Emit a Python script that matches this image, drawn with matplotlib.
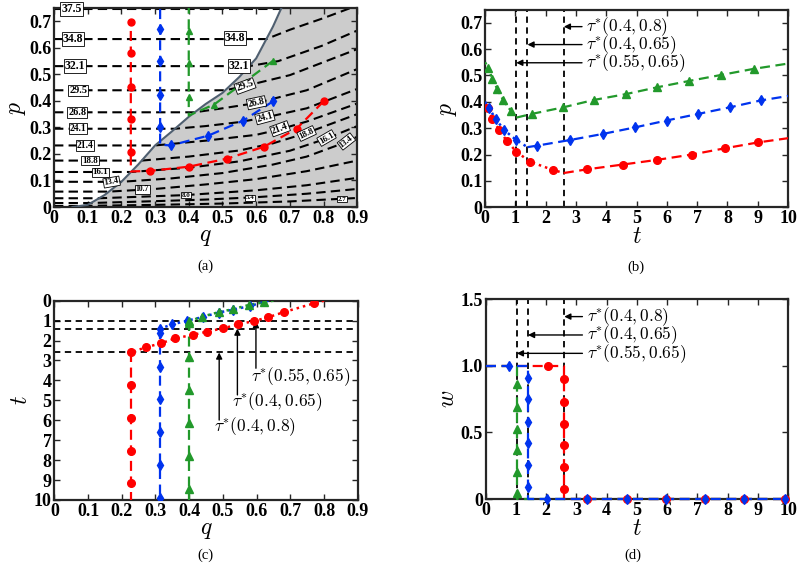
import matplotlib
matplotlib.use("Agg")
import matplotlib.pyplot as plt
import numpy as np

plt.rcParams['mathtext.fontset'] = 'cm'
plt.rcParams['font.family'] = 'Liberation Serif'
plt.rcParams['font.weight'] = 'bold'
plt.rcParams['xtick.labelsize'] = 13
plt.rcParams['ytick.labelsize'] = 13

RED = '#ff0000'
BLUE = '#0033ee'
GREEN = '#22992b'
DASH = (0, (4.5, 2.5))
DOT = (0, (1, 1.6))

# switching times tau*
tau = [1.03, 1.4, 2.6]
tau_labels = [r'$\tau^{*}(0.55,0.65)$', r'$\tau^{*}(0.4,0.65)$', r'$\tau^{*}(0.4,0.8)$']

# ---------------- panel (a) data ----------------
bound_q = [0.055, 0.10, 0.15, 0.20, 0.25, 0.30, 0.35, 0.40, 0.45, 0.50, 0.55, 0.60, 0.65, 0.675]
bound_p = [0.0, 0.008, 0.045, 0.095, 0.16, 0.232, 0.285, 0.34, 0.388, 0.43, 0.49, 0.56, 0.68, 0.75]

level_p = [0.004, 0.015, 0.033, 0.058, 0.095, 0.132, 0.175, 0.232, 0.295, 0.357, 0.44, 0.531, 0.633, 0.745]
# contour pieces inside the shaded region
gray_q = [[0.3, 0.5, 0.7, 0.9],
          [0.3, 0.45, 0.6, 0.75, 0.9],
          [0.392, 0.6, 0.75, 0.9],
          [0.3, 0.45, 0.6, 0.75, 0.9],
          [0.35, 0.5, 0.65, 0.75, 0.868, 0.9],
          [0.4, 0.55, 0.7, 0.809, 0.9],
          [0.4, 0.55, 0.65, 0.745, 0.9],
          [0.45, 0.6, 0.671, 0.75, 0.9],
          [0.45, 0.55, 0.626, 0.75, 0.9],
          [0.5, 0.601, 0.75, 0.9],
          [0.567, 0.7, 0.9],
          [0.666, 0.794, 0.9],
          [0.7, 0.8, 0.88],
          []]
gray_p = [[0.008, 0.013, 0.021, 0.034],
          [0.022, 0.028, 0.037, 0.05, 0.068],
          [0.045, 0.063, 0.082, 0.11],
          [0.068, 0.085, 0.105, 0.135, 0.175],
          [0.108, 0.128, 0.16, 0.19, 0.245, 0.265],
          [0.148, 0.172, 0.212, 0.258, 0.305],
          [0.19, 0.213, 0.24, 0.277, 0.35],
          [0.25, 0.272, 0.293, 0.322, 0.39],
          [0.305, 0.32, 0.337, 0.372, 0.445],
          [0.372, 0.392, 0.44, 0.52],
          [0.456, 0.497, 0.595],
          [0.55, 0.607, 0.665],
          [0.668, 0.712, 0.75],
          []]

lab_text = ['37.5', '34.8', '34.8', '32.1', '32.1', '29.5', '29.5', '26.8', '26.8', '24.1', '24.1',
            '21.4', '21.4', '18.8', '18.8', '16.1', '16.1', '13.4', '13.4', '10.7', '8.0', '5.4', '2.7']
lab_q = [0.052, 0.057, 0.537, 0.062, 0.55, 0.072, 0.567, 0.069, 0.601, 0.072, 0.626,
         0.092, 0.671, 0.107, 0.75, 0.137, 0.809, 0.171, 0.868, 0.262, 0.392, 0.582, 0.854]
lab_p = [0.746, 0.633, 0.636, 0.531, 0.531, 0.44, 0.456, 0.357, 0.393, 0.296, 0.338,
         0.232, 0.295, 0.175, 0.277, 0.131, 0.26, 0.094, 0.247, 0.067, 0.045, 0.035, 0.029]
lab_rot = [0, 0, 0, 0, 0, 0, 20, 0, 12, 0, 15, 0, 20, 0, 25, 0, 30, 10, 38, 0, 0, 0, 0]
lab_size = [8.5, 8.5, 8.5, 8.5, 8.5, 7.5, 7.5, 7.5, 7, 7, 7, 7, 7, 6.5, 6.5, 6.5, 6.5, 6, 6, 5.5, 5, 5, 5]

red_a_q = [0.80, 0.72, 0.623, 0.513, 0.40, 0.285, 0.228, 0.228]
red_a_p = [0.398, 0.295, 0.227, 0.182, 0.152, 0.136, 0.134, 0.70]
red_a_mq = [0.80, 0.72, 0.623, 0.513, 0.40, 0.285, 0.228, 0.228, 0.228, 0.228, 0.228]
red_a_mp = [0.398, 0.295, 0.227, 0.182, 0.152, 0.136, 0.206, 0.333, 0.454, 0.58, 0.697]
blue_a_q = [0.651, 0.562, 0.458, 0.346, 0.315, 0.315]
blue_a_p = [0.399, 0.326, 0.269, 0.232, 0.235, 0.76]
blue_a_mq = [0.651, 0.562, 0.458, 0.346, 0.315, 0.315, 0.315, 0.315]
blue_a_mp = [0.399, 0.326, 0.269, 0.232, 0.302, 0.424, 0.549, 0.67]
green_a_q = [0.649, 0.475, 0.40, 0.40]
green_a_p = [0.55, 0.386, 0.345, 0.76]
green_a_mq = [0.649, 0.475, 0.40, 0.40, 0.40]
green_a_mp = [0.55, 0.386, 0.415, 0.542, 0.664]

# ---------------- panel (b) data ----------------
red_b1_t = [0, 0.11, 0.24, 0.47, 0.71, 1.03, 1.48, 2.23, 2.6]
red_b1_p = [0.395, 0.375, 0.335, 0.293, 0.253, 0.211, 0.173, 0.142, 0.13]
red_b2_t = [2.6, 3.37, 4.54, 5.69, 6.82, 7.93, 9.01, 10]
red_b2_p = [0.13, 0.144, 0.162, 0.18, 0.20, 0.224, 0.246, 0.262]
blue_b1_t = [0, 0.14, 0.35, 0.63, 1.03, 1.4]
blue_b1_p = [0.40, 0.375, 0.335, 0.293, 0.255, 0.228]
blue_b2_t = [1.4, 1.73, 2.80, 3.88, 4.95, 5.99, 7.03, 8.08, 9.09, 10]
blue_b2_p = [0.228, 0.234, 0.255, 0.278, 0.303, 0.329, 0.354, 0.379, 0.405, 0.422]
green_b1_t = [0, 0.11, 0.24, 0.41, 0.6, 0.86, 1.03]
green_b1_p = [0.55, 0.527, 0.487, 0.448, 0.407, 0.365, 0.34]
green_b2_t = [1.03, 1.54, 2.58, 3.59, 4.64, 5.68, 6.73, 7.8, 8.87, 10]
green_b2_p = [0.34, 0.354, 0.379, 0.407, 0.429, 0.455, 0.479, 0.502, 0.525, 0.545]

# ---------------- panel (c) data ----------------
red_c1_q = [0.80, 0.771, 0.68, 0.635, 0.593, 0.546, 0.50, 0.454, 0.41, 0.358, 0.317, 0.271, 0.228]
red_c1_t = [0, 0.13, 0.58, 0.83, 1.02, 1.19, 1.39, 1.55, 1.72, 1.89, 2.14, 2.34, 2.6]
red_c2_t = [2.6, 4.22, 5.87, 7.52, 9.17, 10]
red_c2_q = [0.228] * 6
blue_c1_q = [0.635, 0.58, 0.53, 0.487, 0.44, 0.395, 0.35, 0.314]
blue_c1_t = [0, 0.27, 0.45, 0.6, 0.82, 1.0, 1.19, 1.4]
blue_c2_t = [1.4, 1.64, 3.31, 4.95, 6.61, 8.24, 9.92, 10]
blue_c2_q = [0.314] * 8
green_c1_q = [0.65, 0.622, 0.576, 0.531, 0.487, 0.439, 0.40]
green_c1_t = [0, 0.08, 0.22, 0.42, 0.58, 0.8, 1.03]
green_c2_t = [1.03, 1.14, 2.84, 4.48, 6.15, 7.79, 9.45, 10]
green_c2_q = [0.40] * 8

# ---------------- panel (d) data ----------------
w_line = [1, 1, 0, 0]
green_d_t = [0, 1.03, 1.03, 10]
green_d_mt = [1.03] * 6
green_d_mw = [0.043, 0.2, 0.368, 0.526, 0.694, 0.862]
red_d_t = [0, 2.6, 2.6, 10]
red_d_mt = [2.07, 2.6, 2.6, 2.6, 2.6, 2.6, 2.6, 3.34, 4.66, 5.96, 7.27, 8.55, 9.89]
red_d_mw = [1.0, 0.075, 0.238, 0.406, 0.563, 0.731, 0.899, 0, 0, 0, 0, 0, 0]
blue_d_t = [0, 1.41, 1.41, 10]
blue_d_mt = [0.77, 1.41, 1.41, 1.41, 1.41, 1.41, 1.41, 2.02, 3.34, 4.66, 5.96, 7.27, 8.55, 9.89]
blue_d_mw = [1.0, 0.088, 0.253, 0.418, 0.581, 0.749, 0.912, 0, 0, 0, 0, 0, 0, 0]


def fmt(v):
    return '0' if v == 0 else ('%g' % v)


def style(ax, xt, yt, xlim, ylim, xlab, ylab, ylabels=None):
    ax.set_xlim(*xlim)
    ax.set_ylim(*ylim)
    ax.set_xticks(xt, labels=[fmt(v) for v in xt])
    ax.set_yticks(yt, labels=ylabels if ylabels else [fmt(v) for v in yt])
    ax.tick_params(direction='in', top=True, right=True, length=4, width=1,
                   pad=2, color='#262626', labelcolor='black')
    for s in ax.spines.values():
        s.set_linewidth(1.6)
        s.set_color('#262626')
    ax.set_xlabel(xlab, fontsize=17, labelpad=0)
    ax.set_ylabel(ylab, fontsize=17, labelpad=1)


fig = plt.figure(figsize=(8, 5.69), dpi=100)
ax_a = fig.add_axes([0.0675, 0.6362, 0.379, 0.3497])
ax_b = fig.add_axes([0.6063, 0.6357, 0.3788, 0.3476])
ax_c = fig.add_axes([0.0679, 0.1213, 0.3793, 0.3503])
ax_d = fig.add_axes([0.6071, 0.1230, 0.3779, 0.351])

# ---------- (a) ----------
ax = ax_a
ax.fill_betweenx(bound_p, bound_q, 0.9, color='#cccccc', lw=0, zorder=0)
ax.plot(bound_q, bound_p, color='#4f5f70', lw=1.5, zorder=3)
for p0, gq, gp in zip(level_p, gray_q, gray_p):
    q0 = np.interp(p0, bound_p, bound_q)
    ax.plot([0, q0] + gq, [p0, p0] + gp, color='black', lw=1.5, ls=DASH, zorder=2)
for txt, q, p, r, s in zip(lab_text, lab_q, lab_p, lab_rot, lab_size):
    ax.text(q, p, txt, fontsize=s, fontweight='bold', rotation=r, ha='center', va='center',
            zorder=6, clip_on=False,
            bbox=dict(boxstyle='square,pad=0.08', fc='white', ec='black', lw=0.6))
for lq, lp, mq, mp, c, m in [(red_a_q, red_a_p, red_a_mq, red_a_mp, RED, 'o'),
                             (blue_a_q, blue_a_p, blue_a_mq, blue_a_mp, BLUE, 'd'),
                             (green_a_q, green_a_p, green_a_mq, green_a_mp, GREEN, '^')]:
    ax.plot(lq, lp, color=c, lw=1.6, ls=DASH, zorder=4)
    ax.plot(mq, mp, ls='none', marker=m, color=c, ms=5, zorder=5)
style(ax, np.round(np.arange(0, 0.91, 0.1), 1), np.round(np.arange(0, 0.71, 0.1), 1),
      (0, 0.9), (0, 0.75), '$q$', '$p$')

# ---------- (b) ----------
ax = ax_b
for x in tau:
    ax.plot([x, x], [0, 0.75], color='black', lw=1.3, ls=(0, (3.5, 2.5)), zorder=2)
for t1, p1, t2, p2, c, m in [(red_b1_t, red_b1_p, red_b2_t, red_b2_p, RED, 'o'),
                             (blue_b1_t, blue_b1_p, blue_b2_t, blue_b2_p, BLUE, 'd'),
                             (green_b1_t, green_b1_p, green_b2_t, green_b2_p, GREEN, '^')]:
    ax.plot(t1, p1, color=c, lw=1.8, ls=DOT, zorder=3)
    ax.plot(t2, p2, color=c, lw=1.6, ls=DASH, zorder=3)
    ax.plot(t1[1:-1] + t2[1:-1], p1[1:-1] + p2[1:-1], ls='none', marker=m, color=c, ms=5.5, zorder=4)
for x, y, txt in zip(tau, [0.548, 0.617, 0.685], tau_labels):
    ax.annotate('', xy=(x, y), xytext=(3.2, y),
                arrowprops=dict(arrowstyle='-|>', color='black', lw=1, mutation_scale=9, shrinkA=0, shrinkB=0))
    ax.text(3.34, y, txt, fontsize=12.5, ha='left', va='center')
style(ax, list(range(0, 11)), np.round(np.arange(0, 0.71, 0.1), 1), (0, 10), (0, 0.75), '$t$', '$p$')

# ---------- (c) ----------
ax = ax_c
for y in tau:
    ax.plot([0, 0.9], [y, y], color='black', lw=1.3, ls=(0, (3.5, 2.5)), zorder=2)
for q1, t1, q2, t2, c, m in [(red_c1_q, red_c1_t, red_c2_q, red_c2_t, RED, 'o'),
                             (blue_c1_q, blue_c1_t, blue_c2_q, blue_c2_t, BLUE, 'd'),
                             (green_c1_q, green_c1_t, green_c2_q, green_c2_t, GREEN, '^')]:
    ax.plot(q1, t1, color=c, lw=1.8, ls=DOT, zorder=3)
    ax.plot(q2, t2, color=c, lw=1.6, ls=DASH, zorder=3)
    ax.plot(q1[1:] + q2[1:-1], t1[1:] + t2[1:-1], ls='none', marker=m, color=c, ms=5.5, zorder=4)
arrow_q = [0.598, 0.543, 0.489]
for x, head, tail, ty, tx, txt in zip(arrow_q, tau, [3.39, 4.73, 5.99], [3.81, 5.07, 6.32],
                                      [0.583, 0.528, 0.474], tau_labels):
    ax.annotate('', xy=(x, head), xytext=(x, tail),
                arrowprops=dict(arrowstyle='-|>', color='black', lw=1, mutation_scale=9, shrinkA=0, shrinkB=0))
    ax.text(tx, ty, txt, fontsize=12.5, ha='left', va='center')
style(ax, np.round(np.arange(0, 0.91, 0.1), 1), list(range(0, 11)), (0, 0.9), (10, 0), '$q$', '$t$')

# ---------- (d) ----------
ax = ax_d
for x in tau:
    ax.plot([x, x], [0, 1.5], color='black', lw=1.3, ls=(0, (3.5, 2.5)), zorder=2)
for lt, mt, mw, c, m in [(red_d_t, red_d_mt, red_d_mw, RED, 'o'),
                         (green_d_t, green_d_mt, green_d_mw, GREEN, '^'),
                         (blue_d_t, blue_d_mt, blue_d_mw, BLUE, 'd')]:
    ax.plot(lt, w_line, color=c, lw=1.6, ls=DASH, zorder=3, clip_on=False)
    ax.plot(mt, mw, ls='none', marker=m, color=c, ms=5.5, zorder=4, clip_on=False)
for x, y, txt in zip(tau, [1.094, 1.232, 1.37], tau_labels):
    ax.annotate('', xy=(x, y), xytext=(3.2, y),
                arrowprops=dict(arrowstyle='-|>', color='black', lw=1, mutation_scale=9, shrinkA=0, shrinkB=0))
    ax.text(3.34, y, txt, fontsize=12.5, ha='left', va='center')
style(ax, list(range(0, 11)), [0, 0.5, 1.0, 1.5], (0, 10), (0, 1.5), '$t$', '$w$',
      ylabels=['0', '0.5', '1.0', '1.5'])

for x, y, s in [(205, 266, '(a)'), (636, 267, '(b)'), (205, 555, '(c)'), (633, 555, '(d)')]:
    fig.text(x / 800, 1 - y / 569, s, ha='center', va='center', fontsize=10.5, fontweight='normal')

fig.savefig('out.png', dpi=100)
